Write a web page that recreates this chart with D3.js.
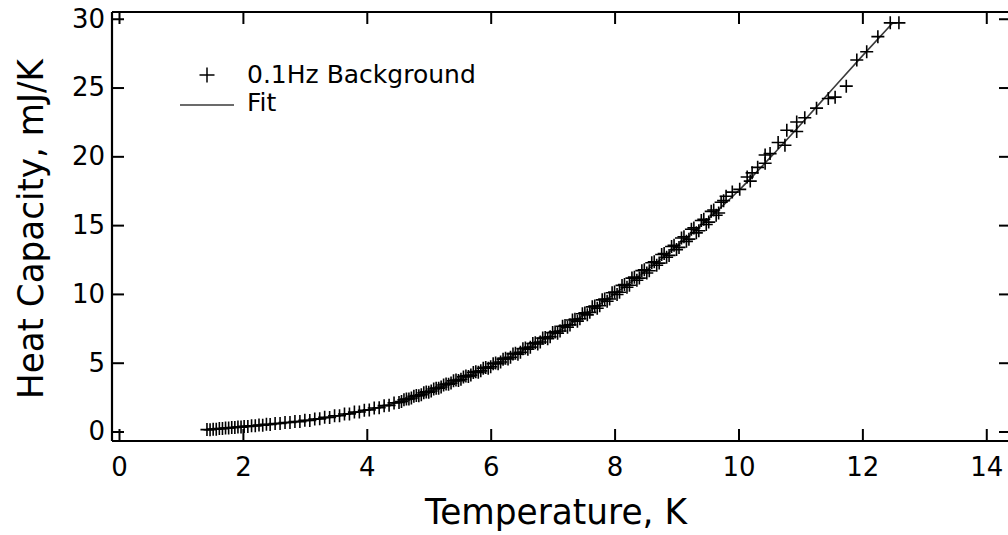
<!DOCTYPE html>
<html>
<head>
<meta charset="utf-8">
<script src="https://cdn.jsdelivr.net/npm/d3@7"></script>
<style>
  html, body { margin: 0; padding: 0; background: #fff; }
  svg { display: block; }
  text { font-family: "DejaVu Sans", Verdana, sans-serif; fill: #000; }
</style>
</head>
<body>
<svg id="chart" width="1008" height="535"></svg>
<script>
// Measured background heat capacity at 0.1 Hz (temperature in K, heat capacity in mJ/K)
const tempK = [
  1.42, 1.47, 1.52, 1.57, 1.62, 1.67, 1.72, 1.77, 1.82, 1.87, 1.92, 1.97,
  2.02, 2.08, 2.14, 2.20, 2.26, 2.32, 2.38, 2.44, 2.52, 2.60, 2.68, 2.76,
  2.84, 2.92, 3.00, 3.08, 3.16, 3.24, 3.32, 3.40, 3.48, 3.56, 3.64, 3.72,
  3.80, 3.88, 3.96, 4.04, 4.12, 4.20, 4.28, 4.36, 4.44, 4.52, 4.60, 4.68,
  4.76, 4.84, 4.92, 5.00, 5.08, 5.16, 5.24, 5.32, 5.40, 5.48, 5.56, 5.64,
  5.72, 5.80, 5.88, 5.96, 6.04, 6.12, 6.20, 6.28, 6.36, 6.44, 6.52, 6.60,
  6.68, 6.76, 6.84, 6.92, 7.00, 7.08, 7.16, 7.24, 7.32, 7.40, 7.48, 7.56,
  7.64, 7.72, 7.80, 7.88, 7.96, 8.04, 8.12, 8.20, 8.28, 8.36, 8.44, 8.52,
  8.60, 8.68, 8.76, 8.84, 8.92, 9.00, 9.08, 9.16, 9.24, 9.32, 9.40, 9.48,
  9.56, 9.64, 9.72, 9.80, 9.90, 10.02, 10.14, 10.19, 10.22, 10.31, 10.43, 10.43,
  10.51, 10.64, 10.75, 10.78, 10.94, 10.94, 11.07, 11.26, 11.45, 11.56, 11.74, 11.91,
  12.07, 12.25, 12.45, 12.59,
  4.56, 4.64, 4.72, 4.80, 4.88, 4.96, 5.04, 5.12, 5.20, 5.28, 5.36, 5.44,
  5.52, 5.60, 5.68, 5.76, 5.84, 5.92, 6.00, 6.08, 6.16, 6.24, 6.32, 6.40,
  6.48, 6.56, 6.64, 6.72, 6.80, 6.88, 6.96, 7.04, 7.12, 7.20, 7.28, 7.36,
  7.44, 7.52, 7.60, 7.68, 7.76, 7.84, 7.92, 8.00, 8.08, 8.16, 8.24, 8.32,
  8.40, 8.48, 8.56, 8.64, 8.72, 8.80, 8.88, 8.96, 9.04, 9.12, 9.20, 9.28,
  9.36, 9.44, 9.52, 9.60, 9.68, 9.76
];
const heatCap = [
  0.14, 0.13, 0.17, 0.17, 0.21, 0.21, 0.25, 0.25, 0.29, 0.29, 0.33, 0.32,
  0.37, 0.37, 0.42, 0.41, 0.47, 0.46, 0.52, 0.51, 0.58, 0.58, 0.65, 0.65,
  0.73, 0.72, 0.81, 0.80, 0.91, 0.92, 1.03, 1.02, 1.14, 1.14, 1.27, 1.28,
  1.41, 1.42, 1.55, 1.57, 1.71, 1.73, 1.88, 1.90, 2.08, 2.11, 2.30, 2.36,
  2.56, 2.60, 2.81, 2.86, 3.09, 3.14, 3.38, 3.43, 3.68, 3.70, 3.97, 4.00,
  4.29, 4.30, 4.60, 4.60, 4.92, 4.93, 5.26, 5.27, 5.64, 5.62, 6.01, 5.98,
  6.40, 6.36, 6.79, 6.74, 7.19, 7.14, 7.65, 7.58, 8.10, 8.02, 8.56, 8.48,
  9.06, 8.96, 9.57, 9.47, 10.08, 9.96, 10.62, 10.48, 11.15, 10.99, 11.69, 11.52,
  12.27, 12.08, 12.87, 12.66, 13.45, 13.22, 14.06, 13.82, 14.70, 14.44, 15.34, 15.05,
  16.00, 15.72, 16.66, 17.10, 17.40, 17.60, 18.50, 18.20, 18.80, 19.20, 19.50, 20.10,
  20.20, 21.00, 20.80, 21.90, 21.80, 22.50, 22.80, 23.50, 24.20, 24.30, 25.10, 27.00,
  27.60, 28.70, 29.70, 29.70,
  2.18, 2.36, 2.43, 2.62, 2.67, 2.88, 2.94, 3.15, 3.23, 3.45, 3.52, 3.74,
  3.80, 4.04, 4.10, 4.35, 4.41, 4.66, 4.71, 4.98, 5.05, 5.33, 5.40, 5.69,
  5.76, 6.07, 6.13, 6.45, 6.51, 6.84, 6.89, 7.24, 7.31, 7.70, 7.75, 8.16,
  8.19, 8.62, 8.66, 9.12, 9.14, 9.63, 9.63, 10.14, 10.12, 10.68, 10.63, 11.22,
  11.15, 11.76, 11.68, 12.34, 12.24, 12.94, 12.80, 13.53, 13.38, 14.16, 13.98, 14.80,
  14.59, 15.43, 15.22, 16.10, 15.88, 16.78
];

// Fitted curve through the measurements
const fitT = [1.40, 2.0, 2.5, 3.0, 3.5, 4.0, 4.5, 5.0, 5.5, 6.0, 6.5, 7.0,
              7.5, 8.0, 8.5, 9.0, 9.5, 10.0, 10.5, 11.0, 11.5, 12.0, 12.5];
const fitC = [0.12, 0.35, 0.55, 0.78, 1.12, 1.55, 2.12, 2.90, 3.80, 4.75, 5.85, 7.05,
              8.45, 10.0, 11.65, 13.45, 15.40, 17.50, 19.85, 22.30, 24.80, 27.30, 29.75];

const xTicks = [0, 2, 4, 6, 8, 10, 12, 14];
const yTicks = [0, 5, 10, 15, 20, 25, 30];

const legendItems = ["0.1Hz Background", "Fit"];
const xTitle = "Temperature, K";
const yTitle = "Heat Capacity, mJ/K";

const svg = d3.select("#chart");
const plot = { left: 112, right: 1010, top: 12, bottom: 441 };

const x = d3.scaleLinear().domain([-0.113, 14.383]).range([plot.left, plot.right]);
const y = d3.scaleLinear().domain([-0.69, 30.49]).range([plot.bottom, plot.top]);

const tickLen = 12;
const tickFont = 26;

// Axes: ticks pointing inward on all four sides
const bottomAxis = d3.axisBottom(x).tickValues(xTicks).tickSize(-tickLen).tickPadding(17).tickFormat(d3.format("d"));
const topAxis = d3.axisTop(x).tickValues(xTicks).tickSize(-tickLen).tickFormat("");
const leftAxis = d3.axisLeft(y).tickValues(yTicks).tickSize(-tickLen).tickPadding(7).tickFormat(d3.format("d"));
const rightAxis = d3.axisRight(y).tickValues(yTicks).tickSize(-11).tickFormat("");

function styleAxis(g) {
  g.select(".domain").attr("stroke", "#000").attr("stroke-width", 2.2);
  g.selectAll(".tick line").attr("stroke", "#000").attr("stroke-width", 2);
  g.selectAll(".tick text").style("font-family", "'DejaVu Sans', Verdana, sans-serif").attr("font-size", tickFont).attr("fill", "#000");
}

svg.append("g").attr("transform", `translate(0,${plot.bottom})`).call(bottomAxis).call(styleAxis)
  .call(g => g.select(".domain").attr("d", `M${plot.left},0H${plot.right}`));
svg.append("g").attr("transform", `translate(0,${plot.top})`).call(topAxis).call(styleAxis)
  .call(g => g.select(".domain").attr("d", `M${plot.left},0H${plot.right}`));
svg.append("g").attr("transform", `translate(${plot.left},0)`).call(leftAxis).call(styleAxis)
  .call(g => g.select(".domain").attr("d", `M0,${plot.top}V${plot.bottom}`));
svg.append("g").attr("transform", `translate(${plot.right},0)`).call(rightAxis).call(styleAxis)
  .call(g => g.select(".domain").attr("d", `M0,${plot.top}V${plot.bottom}`));

// Fit curve
const fitLine = d3.line().x(d => x(d[0])).y(d => y(d[1])).curve(d3.curveMonotoneX);
svg.append("path")
  .datum(fitT.map((t, i) => [t, fitC[i]]))
  .attr("d", fitLine)
  .attr("fill", "none")
  .attr("stroke", "#3a3a3a")
  .attr("stroke-width", 1.6);

// Data markers: "+" symbols
const plusSize = 6.5;
const plusPath = s => `M${-s},0H${s}M0,${-s}V${s}`;
svg.append("g").selectAll("path")
  .data(tempK.map((t, i) => [t, heatCap[i]]))
  .join("path")
  .attr("transform", d => `translate(${x(d[0])},${y(d[1])})`)
  .attr("d", plusPath(plusSize))
  .attr("stroke", "#000")
  .attr("stroke-width", 1.6)
  .attr("fill", "none");

// Legend
const legend = svg.append("g");
legend.append("path")
  .attr("transform", "translate(207,75)")
  .attr("d", plusPath(7.5))
  .attr("stroke", "#000").attr("stroke-width", 1.5).attr("fill", "none");
legend.append("text").attr("x", 247).attr("y", 83).attr("font-size", 25).text(legendItems[0]);
legend.append("line")
  .attr("x1", 180).attr("x2", 234).attr("y1", 105).attr("y2", 105)
  .attr("stroke", "#3a3a3a").attr("stroke-width", 1.5);
legend.append("text").attr("x", 247).attr("y", 111).attr("font-size", 25).text(legendItems[1]);

// Axis titles
svg.append("text")
  .attr("x", 556).attr("y", 524)
  .attr("text-anchor", "middle")
  .attr("font-size", 36)
  .attr("textLength", 262)
  .attr("lengthAdjust", "spacingAndGlyphs")
  .text(xTitle);
svg.append("text")
  .attr("transform", "translate(43,229) rotate(-90)")
  .attr("text-anchor", "middle")
  .attr("font-size", 36)
  .attr("textLength", 340)
  .attr("lengthAdjust", "spacingAndGlyphs")
  .text(yTitle);
</script>
</body>
</html>
